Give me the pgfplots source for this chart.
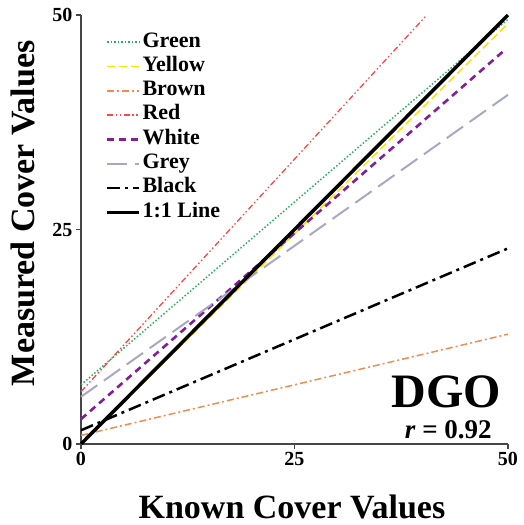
\documentclass[border=0pt]{standalone}
\usepackage{fontspec}
\setmainfont{Liberation Serif}
\usepackage{pgfplots}
\pgfplotsset{compat=1.18}
\definecolor{cgreen}{RGB}{45,175,95}
\definecolor{cyellow}{RGB}{255,225,0}
\definecolor{cbrown}{RGB}{240,140,80}
\definecolor{cred}{RGB}{255,70,70}
\definecolor{cpurple}{RGB}{130,30,150}
\definecolor{cgrey}{RGB}{168,168,195}
\definecolor{caxis}{RGB}{70,70,70}
\begin{document}
\begin{tikzpicture}
\useasboundingbox (0,0) rectangle (524pt,525pt);
\begin{axis}[
  at={(81pt,81pt)}, anchor=south west,
  scale only axis, width=427pt, height=429pt,
  xmin=0, xmax=50, ymin=0, ymax=50,
  axis x line=bottom, axis y line=left,
  axis line style={-, line width=1.6pt, color=caxis},
  tick style={line width=1.2pt, color=caxis},
  tick align=outside, major tick length=5pt,
  xtick={0,25,50}, ytick={0,25,50},
  xticklabels={0,25,50}, yticklabels={0,25,50},
  ticklabel style={font=\fontsize{20}{20}\selectfont\bfseries},
  xlabel={Known Cover Values},
  ylabel={Measured Cover Values},
  xlabel style={font=\fontsize{34}{34}\selectfont\bfseries, at={(axis description cs:0.494,-0.146)}, anchor=center},
  ylabel style={font=\fontsize{34}{34}\selectfont\bfseries, at={(axis description cs:-0.136,0.538)}, anchor=center, rotate=0},
  clip=false,
  legend style={draw=none, fill=none, at={(axis description cs:0.050,0.970)}, anchor=north west,
    font=\fontsize{22}{22}\selectfont\bfseries,
    nodes={inner ysep=0pt, inner xsep=1.5pt, text height=17pt, text depth=7.3pt},
    row sep=0pt},
  legend cell align=left,
  legend image code/.code={\draw[#1] (0pt,0pt) -- (32pt,0pt);},
]
\addplot[cgreen, line width=1.5pt, dash pattern=on 1.5pt off 2pt] coordinates {(0,6.9) (50,49.5)};
\addlegendentry{Green}
\addplot[cyellow, line width=1.5pt, dash pattern=on 8pt off 4pt] coordinates {(0,0) (50,49)};
\addlegendentry{Yellow}
\addplot[cbrown, line width=1.5pt, dash pattern=on 7pt off 3pt on 2pt off 3pt] coordinates {(0,1.0) (50,12.8)};
\addlegendentry{Brown}
\addplot[cred, line width=1.3pt, dash pattern=on 6pt off 2.5pt on 1.5pt off 2.5pt on 1.5pt off 2.5pt] coordinates {(0,6.1) (40.5,50)};
\addlegendentry{Red}
\addplot[cpurple, line width=2.6pt, dash pattern=on 7pt off 5pt] coordinates {(0,2.9) (49.6,45.9)};
\addlegendentry{White}
\addplot[cgrey, line width=2pt, dash pattern=on 20pt off 8pt] coordinates {(0,5.5) (50,40.7)};
\addlegendentry{Grey}
\addplot[black, line width=2.5pt, dash pattern=on 13pt off 5pt on 3pt off 5pt] coordinates {(0,1.6) (50,22.8)};
\addlegendentry{Black}
\addplot[black, line width=3.5pt] coordinates {(0,0) (50,50)};
\addlegendentry{1:1 Line}
\node[font=\fontsize{48}{48}\selectfont\bfseries, anchor=base] at (axis description cs:0.855,0.086) {DGO};
\node[font=\fontsize{27}{27}\selectfont\bfseries, anchor=base east] at (axis description cs:0.970,0.012) {\textit{r} = 0.92};
\end{axis}
\end{tikzpicture}
\end{document}
